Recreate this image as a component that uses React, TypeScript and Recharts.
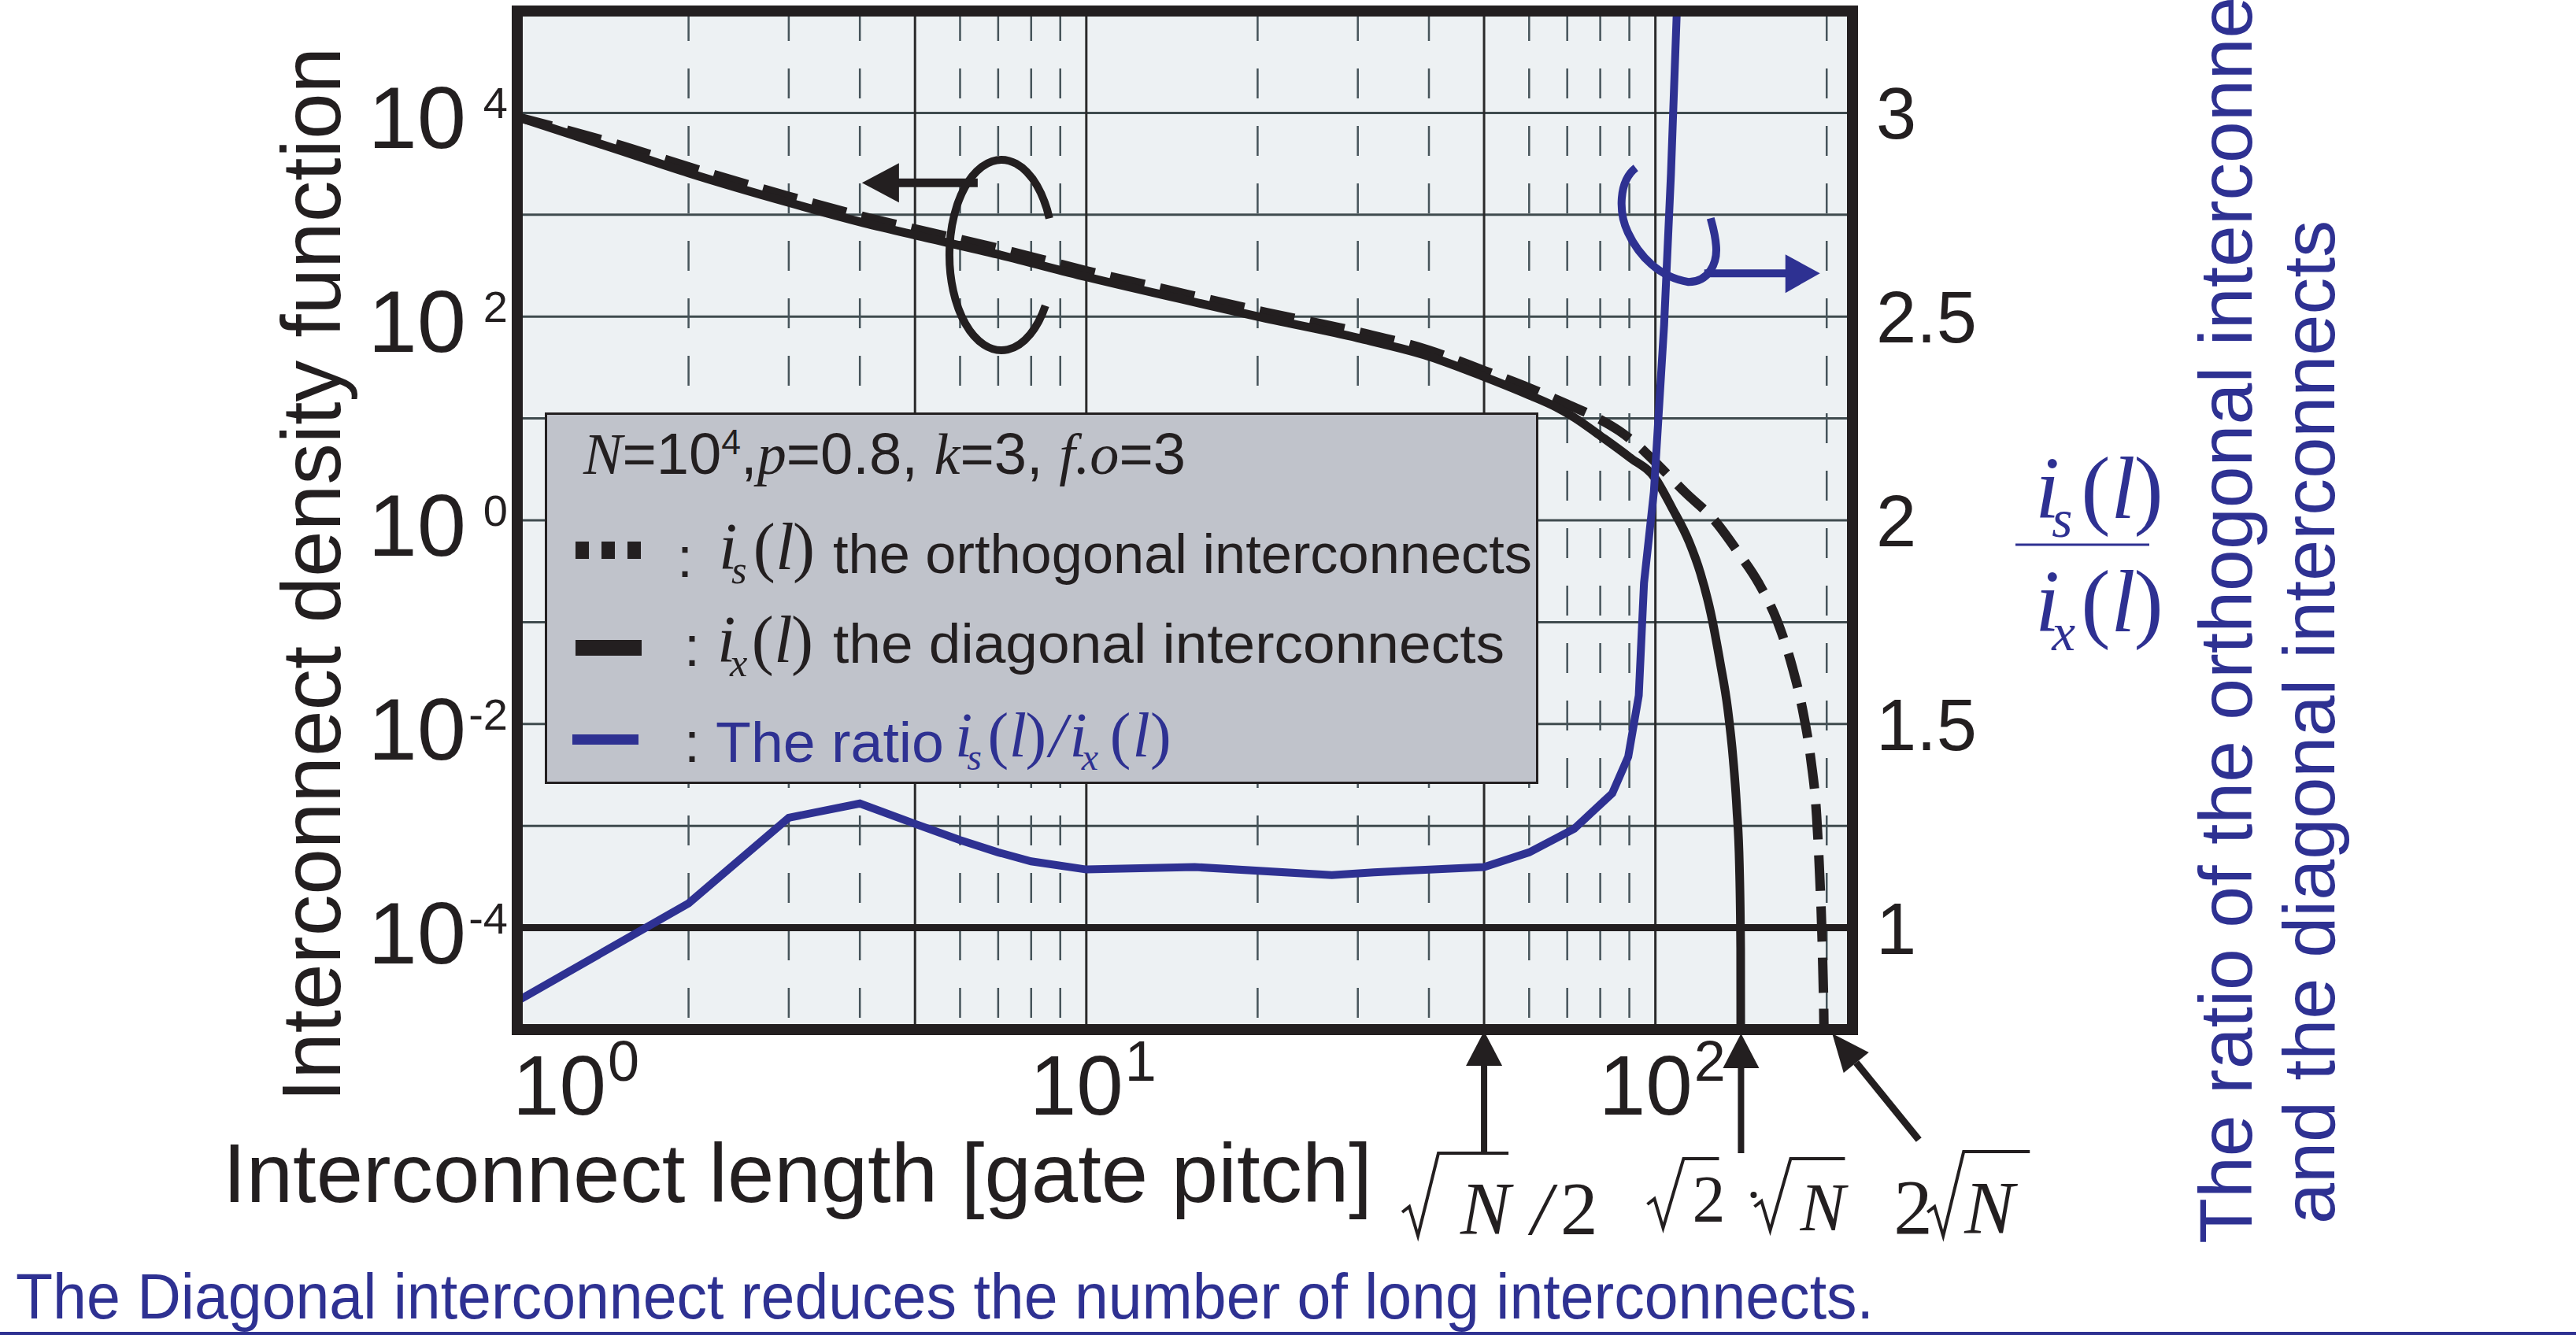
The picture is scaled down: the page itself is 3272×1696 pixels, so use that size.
import React from 'react';
import {
  LineChart,
  Line,
  XAxis,
  YAxis,
  CartesianGrid,
  ReferenceLine,
  ReferenceArea,
  ReferenceDot,
  Legend,
  Label,
} from 'recharts';

const SANS = '"Liberation Sans", Arial, Helvetica, sans-serif';
const SERIF = '"Liberation Serif", "Times New Roman", Times, serif';
const INK = '#231f20';
const BLUE = '#2e3192';
const PANEL = '#edf1f3';
const LEGEND_BG = '#c0c3cb';
const PLOT_LEFT = 657;

// ---- axes ----
const xDomain: [number, number] = [1, 222];
const xTickValues = [1, 10, 100];
const xMinorGridValues = [2, 3, 4, 6, 7, 8, 9, 20, 30, 40, 60, 70, 80, 90, 200];
const xMajorGridValues = [5, 10, 50, 100];
const leftDomain: [number, number] = [1e-5, 1e5];
const leftTickValues = [1e-4, 1e-2, 1, 1e2, 1e4];
const leftGridValues = [1e-4, 1e-3, 1e-2, 1e-1, 1, 1e1, 1e2, 1e3, 1e4];
const rightDomain: [number, number] = [0.75, 3.25];
const rightTickValues = [1, 1.5, 2, 2.5, 3];

// ---- series ----
// i_x(l): diagonal interconnects (log10 of density)
const diagonalLengths = [1, 1.5, 2, 3, 4, 5, 7, 10, 15, 20, 30, 40, 50, 60, 67, 72, 80, 90, 100, 107, 114.6, 120, 125, 130, 134, 137, 139, 140.5, 141.2, 141.42];
const diagonalLog10 = [3.96, 3.64, 3.41, 3.12, 2.93, 2.8, 2.61, 2.39, 2.16, 2.0, 1.79, 1.61, 1.41, 1.23, 1.11, 1.01, 0.83, 0.62, 0.41, 0.12, -0.21, -0.52, -0.9, -1.4, -1.85, -2.35, -2.83, -3.4, -4.2, -8];
// i_s(l): orthogonal interconnects (log10 of density)
const orthogonalLengths = [1, 1.5, 2, 3, 4, 5, 7, 10, 15, 20, 30, 40, 50, 60, 70, 80, 86.3, 93, 100, 113, 127, 140, 152, 164, 174, 182, 187.5, 192, 194.5, 196.5, 198, 199.5];
const orthogonalLog10 = [3.96, 3.69, 3.47, 3.18, 2.99, 2.86, 2.67, 2.45, 2.22, 2.06, 1.85, 1.67, 1.47, 1.3, 1.14, 0.99, 0.88, 0.74, 0.57, 0.27, 0.0, -0.32, -0.62, -1.0, -1.44, -1.9, -2.34, -2.9, -3.51, -4.2, -5.2, -8];
// ratio i_s(l)/i_x(l)
const ratioLengths = [1, 2, 3, 4, 5, 6, 7, 8, 10, 15.5, 27, 32, 50, 60, 72, 84, 89.6, 93.5, 95.5, 99.4, 103.6, 106.5, 109, 111];
const ratioValues = [0.82, 1.06, 1.27, 1.305, 1.255, 1.215, 1.185, 1.163, 1.143, 1.149, 1.129, 1.136, 1.149, 1.185, 1.243, 1.33, 1.42, 1.57, 1.846, 2.07, 2.48, 2.85, 3.24, 3.6];

// sqrt(N)/2, sqrt(2)*sqrt(N), 2*sqrt(N) for N = 1e4
const markerLengths = [50, 141.42, 200];
// anchors of the axis-hint loops
const leftHint = { l: 7.09, v: 400 };
const rightHint = { l: 105.6, r: 2.697 };

const diagonalData = diagonalLengths.map((l, i) => ({ l, v: Math.pow(10, diagonalLog10[i]) }));
const orthogonalData = orthogonalLengths.map((l, i) => ({ l, v: Math.pow(10, orthogonalLog10[i]) }));
const ratioData = ratioLengths.map((l, i) => ({ l, r: ratioValues[i] }));

// ---- ticks ----
const LeftTick = (props: any) => {
  const { x, y, payload } = props;
  const exp = Math.round(Math.log10(payload.value));
  return (
    <text fontFamily={SANS} fill={INK}>
      <tspan x={x - 65} y={y + 45} fontSize={112} textAnchor="end">10</tspan>
      <tspan x={x - 12} y={y + 7} fontSize={56} textAnchor="end">{String(exp)}</tspan>
    </text>
  );
};

const RightTick = (props: any) => {
  const { x, y, payload } = props;
  return (
    <text x={x + 30} y={y + 33} fontFamily={SANS} fontSize={92} fill={INK}>{String(payload.value)}</text>
  );
};

const XTick = (props: any) => {
  const { x, y, payload } = props;
  const exp = Math.round(Math.log10(payload.value));
  const left = Math.max(x - 60, PLOT_LEFT + 6) - 12;
  return (
    <text fontFamily={SANS} fill={INK}>
      <tspan x={left} y={y + 108} fontSize={107}>10</tspan>
      <tspan x={left + 121} y={y + 65} fontSize={72}>{String(exp)}</tspan>
    </text>
  );
};

// a math expression like i_s(l) or i_s(l)/i_x(l), all in one text element
const MathExpr = ({ x, y, size, color, sub, slash }: any) => {
  const s = size;
  const sub1 = slash ? 's' : sub;
  const pieces: any[] = [];
  pieces.push(<tspan key="i1" x={x} y={y} fontStyle="italic">i</tspan>);
  pieces.push(<tspan key="s1" x={x + 0.19 * s} y={y + 0.21 * s} fontStyle="italic" fontSize={0.6 * s}>{sub1}</tspan>);
  pieces.push(<tspan key="p1" x={x + 0.52 * s} y={y}>(</tspan>);
  pieces.push(<tspan key="l1" x={x + 0.86 * s} y={y} fontStyle="italic">l</tspan>);
  pieces.push(<tspan key="q1" x={x + 1.12 * s} y={y}>)</tspan>);
  if (slash) {
    pieces.push(<tspan key="sl" x={x + 1.5 * s} y={y} fontStyle="italic">/</tspan>);
    const x2 = x + 1.82 * s;
    pieces.push(<tspan key="i2" x={x2} y={y} fontStyle="italic">i</tspan>);
    pieces.push(<tspan key="s2" x={x2 + 0.19 * s} y={y + 0.21 * s} fontStyle="italic" fontSize={0.6 * s}>x</tspan>);
    pieces.push(<tspan key="p2" x={x2 + 0.64 * s} y={y}>(</tspan>);
    pieces.push(<tspan key="l2" x={x2 + 1.0 * s} y={y} fontStyle="italic">l</tspan>);
    pieces.push(<tspan key="q2" x={x2 + 1.28 * s} y={y}>)</tspan>);
  }
  return (
    <text fontFamily={SERIF} fontSize={s} fill={color}>
      {pieces}
    </text>
  );
};

// ---- titles ----
const LeftTitle = () => (
  <text
    transform="translate(432,730) rotate(-90)"
    textAnchor="middle"
    fontFamily={SANS}
    fontSize={105}
    fill={INK}
    textLength={1340}
    lengthAdjust="spacingAndGlyphs"
  >
    Interconnect density function
  </text>
);

const RightTitle = () => (
  <g fill={BLUE}>
    <MathExpr x={2585} y={658} size={112} color={BLUE} sub="s" />
    <MathExpr x={2585} y={802} size={112} color={BLUE} sub="x" />
    <line x1={2560} y1={692} x2={2730} y2={692} stroke={BLUE} strokeWidth={3} />
    <text transform="translate(2860,1580) rotate(-90)" fontFamily={SANS} fontSize={95}>
      The ratio of the orthogonal interconnects
    </text>
    <text
      transform="translate(2965,1555) rotate(-90)"
      fontFamily={SANS}
      fontSize={93}
      textLength={1275}
      lengthAdjust="spacingAndGlyphs"
    >
      and the diagonal interconnects
    </text>
  </g>
);

const XTitle = () => (
  <g>
    <text x={283} y={1527} fontFamily={SANS} fontSize={105} fill={INK} textLength={1460} lengthAdjust="spacingAndGlyphs">
      Interconnect length [gate pitch]
    </text>
    <text x={20} y={1675} fontFamily={SANS} fontSize={82} fill={BLUE} textLength={2360} lengthAdjust="spacingAndGlyphs">
      The Diagonal interconnect reduces the number of long interconnects.
    </text>
    <rect x={0} y={1692} width={3272} height={4} fill={BLUE} />
  </g>
);

// ---- legend ----
const LegendBox = () => (
  <svg width={1262} height={472} style={{ display: 'block', overflow: 'visible' }}>
    <rect x={1.5} y={1.5} width={1259} height={469} fill={LEGEND_BG} stroke={INK} strokeWidth={3} />
    <text x={49} y={78} fontSize={75} fill={INK} textLength={765} lengthAdjust="spacingAndGlyphs">
      <tspan fontFamily={SERIF} fontStyle="italic">N</tspan>
      <tspan fontFamily={SANS}>=10</tspan>
      <tspan fontFamily={SANS} fontSize={45} dy={-25}>4</tspan>
      <tspan fontFamily={SANS} dy={25}>,</tspan>
      <tspan fontFamily={SERIF} fontStyle="italic">p</tspan>
      <tspan fontFamily={SANS}>=0.8, </tspan>
      <tspan fontFamily={SERIF} fontStyle="italic">k</tspan>
      <tspan fontFamily={SANS}>=3, </tspan>
      <tspan fontFamily={SERIF} fontStyle="italic">f.o</tspan>
      <tspan fontFamily={SANS}>=3</tspan>
    </text>

    {/* orthogonal */}
    <rect x={39} y={164} width={17} height={22} fill={INK} />
    <rect x={72} y={164} width={17} height={22} fill={INK} />
    <rect x={105} y={164} width={17} height={22} fill={INK} />
    <text x={168} y={209} fontFamily={SANS} fontSize={72} fill={INK}>:</text>
    <MathExpr x={221} y={199} size={84} color={INK} sub="s" />
    <text x={366} y={204} fontFamily={SANS} fontSize={71} fill={INK} textLength={888} lengthAdjust="spacingAndGlyphs">
      the orthogonal interconnects
    </text>

    {/* diagonal */}
    <rect x={39} y={289} width={84} height={20} fill={INK} />
    <text x={177} y={322} fontFamily={SANS} fontSize={72} fill={INK}>:</text>
    <MathExpr x={219} y={317} size={84} color={INK} sub="x" />
    <text x={366} y={318} fontFamily={SANS} fontSize={71} fill={INK} textLength={853} lengthAdjust="spacingAndGlyphs">
      the diagonal interconnects
    </text>

    {/* ratio */}
    <rect x={35} y={409} width={84} height={13} fill={BLUE} />
    <text x={177} y={444} fontFamily={SANS} fontSize={72} fill={INK}>:</text>
    <text x={217} y={444} fontFamily={SANS} fontSize={72} fill={BLUE} textLength={290} lengthAdjust="spacingAndGlyphs">
      The ratio
    </text>
    <MathExpr x={521} y={437} size={80} color={BLUE} slash />
  </svg>
);

// ---- decorations ----
const Radical = ({ x0, yTop, yBot, xEnd }: any) => (
  <path
    d={`M ${x0} ${yBot - 30} L ${x0 + 9} ${yBot - 37} L ${x0 + 20} ${yBot} L ${x0 + 46} ${yTop} L ${xEnd} ${yTop}`}
    fill="none"
    stroke={INK}
    strokeWidth={4}
  />
);

const UpArrow = ({ x, yTip, yTail }: any) => (
  <g>
    <line x1={x} y1={yTip + 40} x2={x} y2={yTail} stroke={INK} strokeWidth={8} />
    <polygon points={`${x},${yTip} ${x - 23},${yTip + 44} ${x + 23},${yTip + 44}`} fill={INK} />
  </g>
);

const HalfMarker = (p: any) => {
  const { cx, cy } = p;
  return (
    <g>
      <UpArrow x={cx} yTip={cy + 2} yTail={cy + 157} />
      <Radical x0={cx - 104} yTop={cy + 157} yBot={cy + 262} xEnd={cx + 31} />
      <text fontFamily={SERIF} fontSize={95} fill={INK}>
        <tspan x={cx - 30} y={cy + 260} fontStyle="italic">N</tspan>
        <tspan x={cx + 60} y={cy + 260} fontStyle="italic">/</tspan>
        <tspan x={cx + 97} y={cy + 260}>2</tspan>
      </text>
    </g>
  );
};

const DiagMarker = (p: any) => {
  const { cx, cy } = p;
  return (
    <g>
      <UpArrow x={cx} yTip={cy + 5} yTail={cy + 157} />
      <Radical x0={cx - 119} yTop={cy + 164} yBot={cy + 252} xEnd={cx - 28} />
      <text x={cx - 62} y={cy + 244} fontFamily={SERIF} fontSize={84} fill={INK}>2</text>
      <circle cx={cx + 16} cy={cy + 210} r={4} fill={INK} />
      <Radical x0={cx + 17} yTop={cy + 164} yBot={cy + 255} xEnd={cx + 132} />
      <text x={cx + 75} y={cy + 255} fontFamily={SERIF} fontStyle="italic" fontSize={86} fill={INK}>N</text>
    </g>
  );
};

const FullMarker = (p: any) => {
  const { cx, cy } = p;
  const tx = cx + 7;
  const ty = cy + 5;
  const bx = tx + 30.5;
  const by = ty + 37;
  return (
    <g>
      <line x1={bx} y1={by} x2={cx + 117} y2={cy + 140} stroke={INK} strokeWidth={9} />
      <polygon points={`${tx},${ty} ${bx + 16},${by - 13} ${bx - 16},${by + 13}`} fill={INK} />
      <text x={cx + 85} y={cy + 259} fontFamily={SERIF} fontSize={99} fill={INK}>2</text>
      <Radical x0={cx + 128} yTop={cy + 155} yBot={cy + 262} xEnd={cx + 258} />
      <text x={cx + 175} y={cy + 259} fontFamily={SERIF} fontStyle="italic" fontSize={95} fill={INK}>N</text>
    </g>
  );
};

const markerShapes = [HalfMarker, DiagMarker, FullMarker];

const LeftHintShape = (p: any) => {
  const { cx, cy } = p;
  return (
    <g>
      <path d={`M ${cx + 61} ${cy - 47} A 66 121 0 1 0 ${cx + 56} ${cy + 64}`} fill="none" stroke={INK} strokeWidth={10} />
      <line x1={cx - 30} y1={cy - 92} x2={cx - 135} y2={cy - 92} stroke={INK} strokeWidth={11} />
      <polygon points={`${cx - 177},${cy - 92} ${cx - 130},${cy - 117} ${cx - 130},${cy - 67}`} fill={INK} />
    </g>
  );
};

const RightHintShape = (p: any) => {
  const { cx, cy } = p;
  return (
    <g>
      <path
        d={`M ${cx - 42} ${cy - 87} C ${cx - 64} ${cy - 70} ${cx - 64} ${cy - 30} ${cx - 52} ${cy - 5} C ${cx - 38} ${cy + 25} ${cx - 12} ${cy + 52} ${cx + 25} ${cy + 58} C ${cx + 50} ${cy + 58} ${cx + 62} ${cy + 35} ${cx + 60} ${cy + 12} C ${cx + 59} ${cy - 2} ${cx + 56} ${cy - 12} ${cx + 53} ${cy - 23}`}
        fill="none"
        stroke={BLUE}
        strokeWidth={10}
      />
      <line x1={cx + 45} y1={cy + 47} x2={cx + 152} y2={cy + 47} stroke={BLUE} strokeWidth={10} />
      <polygon points={`${cx + 192},${cy + 47} ${cx + 148},${cy + 23} ${cx + 148},${cy + 72}`} fill={BLUE} />
    </g>
  );
};

export default function App() {
  return (
    <div style={{ position: 'absolute', left: 0, top: 0, width: 3272, height: 1696, background: '#ffffff' }}>
      <LineChart width={3272} height={1696} margin={{ top: 14, right: 0, bottom: 0, left: 0 }}>
        <XAxis
          dataKey="l"
          type="number"
          scale="log"
          domain={xDomain}
          allowDataOverflow
          ticks={xTickValues}
          interval={0}
          height={388}
          axisLine={false}
          tickLine={false}
          tickSize={0}
          tickMargin={0}
          tick={<XTick />}
          label={<Label content={() => <XTitle />} />}
        />
        <YAxis
          yAxisId="left"
          type="number"
          scale="log"
          domain={leftDomain}
          allowDataOverflow
          ticks={leftTickValues}
          interval={0}
          width={657}
          axisLine={false}
          tickLine={false}
          tickSize={0}
          tickMargin={0}
          tick={<LeftTick />}
          label={<Label content={() => <LeftTitle />} />}
        />
        <YAxis
          yAxisId="right"
          orientation="right"
          type="number"
          domain={rightDomain}
          allowDataOverflow
          ticks={rightTickValues}
          interval={0}
          width={919}
          axisLine={false}
          tickLine={false}
          tickSize={0}
          tickMargin={0}
          tick={<RightTick />}
          label={<Label content={() => <RightTitle />} />}
        />
        <CartesianGrid
          yAxisId="left"
          vertical={false}
          horizontalValues={leftGridValues}
          stroke="#3f4b4e"
          strokeWidth={3}
          fill={PANEL}
          fillOpacity={1}
        />
        <CartesianGrid
          yAxisId="left"
          horizontal={false}
          verticalValues={xMinorGridValues}
          stroke="#46545a"
          strokeWidth={2.5}
          strokeDasharray="38 35"
        />
        <CartesianGrid
          yAxisId="left"
          horizontal={false}
          verticalValues={xMajorGridValues}
          stroke="#2a2a2a"
          strokeWidth={3}
        />
        <ReferenceLine yAxisId="right" y={1} stroke={INK} strokeWidth={9} />
        <Line
          data={orthogonalData}
          dataKey="v"
          yAxisId="left"
          type="monotone"
          stroke={INK}
          strokeWidth={12}
          strokeDasharray="45 20"
          dot={false}
          isAnimationActive={false}
        />
        <Line
          data={diagonalData}
          dataKey="v"
          yAxisId="left"
          type="monotone"
          stroke={INK}
          strokeWidth={11}
          dot={false}
          isAnimationActive={false}
        />
        <Line
          data={ratioData}
          dataKey="r"
          yAxisId="right"
          type="linear"
          stroke={BLUE}
          strokeWidth={10}
          dot={false}
          isAnimationActive={false}
        />
        <ReferenceArea
          yAxisId="left"
          x1={xDomain[0]}
          x2={xDomain[1]}
          y1={leftDomain[0]}
          y2={leftDomain[1]}
          fill="none"
          fillOpacity={0}
          stroke={INK}
          strokeWidth={14}
          ifOverflow="visible"
          zIndex={1500}
        />
        <ReferenceDot yAxisId="left" x={leftHint.l} y={leftHint.v} ifOverflow="visible" shape={LeftHintShape} zIndex={1600} />
        <ReferenceDot yAxisId="right" x={rightHint.l} y={rightHint.r} ifOverflow="visible" shape={RightHintShape} zIndex={1600} />
        {markerLengths.map((l, i) => (
          <ReferenceDot
            key={`m${i}`}
            yAxisId="left"
            x={l}
            y={leftDomain[0]}
            ifOverflow="visible"
            shape={markerShapes[i]}
            zIndex={1600}
          />
        ))}
        <Legend
          layout="vertical"
          align="center"
          verticalAlign="middle"
          wrapperStyle={{ left: 692, top: 524, width: 1262, height: 472 }}
          content={() => <LegendBox />}
        />
      </LineChart>
    </div>
  );
}
